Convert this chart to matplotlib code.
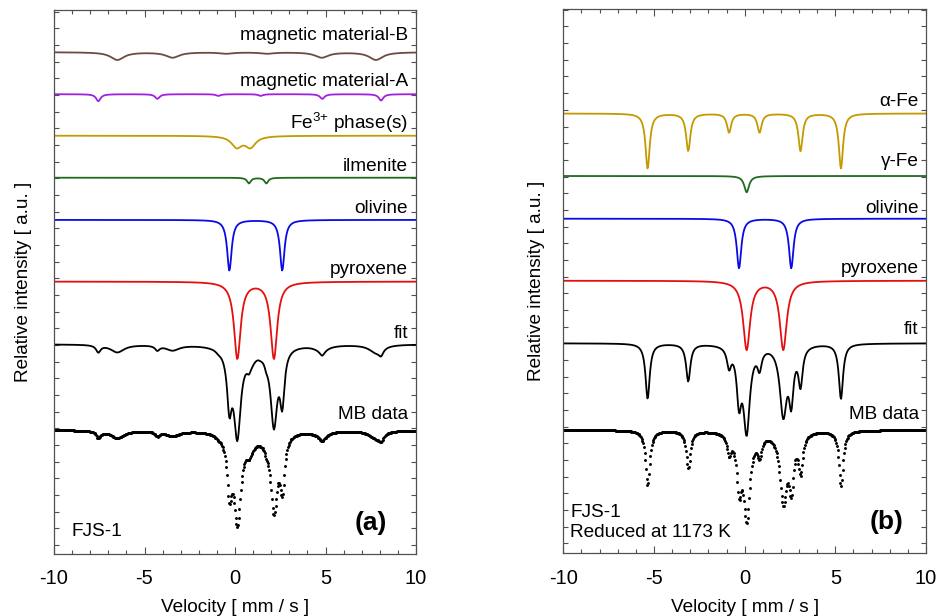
import numpy as np
import matplotlib
matplotlib.use("Agg")
import matplotlib.pyplot as plt
from matplotlib.ticker import MultipleLocator

plt.rcParams['font.family'] = ['Liberation Sans', 'DejaVu Sans']
plt.rcParams['mathtext.fontset'] = 'custom'
plt.rcParams['mathtext.rm'] = 'Liberation Sans'
plt.rcParams['mathtext.it'] = 'Liberation Sans:italic'
plt.rcParams['mathtext.bf'] = 'Liberation Sans:bold'
plt.rcParams['axes.unicode_minus'] = False

# ---------------- data ----------------
# velocity channels [mm/s]
velocity = np.linspace(-10, 10, 501)

# Panel (a): sub-spectra as Lorentzian lines: positions [mm/s], FWHM [mm/s], depths [a.u.]
a_names = ["magnetic material-B", "magnetic material-A", r"Fe$^{3{+}}$ phase(s)",
           "ilmenite", "olivine", "pyroxene"]
a_pos = [
    [-6.50, -3.45, -0.48, 1.78, 4.79, 7.79],
    [-7.55, -4.29, -0.92, 1.42, 4.82, 8.07],
    [0.09, 0.85],
    [0.77, 1.73],
    [-0.31, 2.61],
    [0.13, 2.15],
]
a_fwhm = [
    [0.9, 0.9, 0.9, 0.9, 0.9, 0.9],
    [0.30, 0.30, 0.30, 0.30, 0.30, 0.30],
    [0.70, 0.70],
    [0.25, 0.25],
    [0.30, 0.30],
    [0.44, 0.44],
]
a_depth = [
    [0.46, 0.32, 0.08, 0.08, 0.32, 0.46],
    [0.42, 0.28, 0.10, 0.10, 0.28, 0.38],
    [0.65, 0.65],
    [0.34, 0.34],
    [3.04, 3.04],
    [4.60, 4.60],
]

# Panel (b)
b_names = ["\u03b1-Fe", "\u03b3-Fe", "olivine", "pyroxene"]
b_pos = [
    [-5.35, -3.11, -0.86, 0.82, 3.08, 5.31],
    [0.11],
    [-0.31, 2.57],
    [0.11, 2.13],
]
b_fwhm = [
    [0.28, 0.28, 0.28, 0.28, 0.28, 0.28],
    [0.32],
    [0.30, 0.30],
    [0.46, 0.46],
]
b_depth = [
    [3.30, 2.24, 1.14, 1.14, 2.24, 3.30],
    [0.98],
    [2.98, 2.98],
    [4.12, 4.12],
]

# ---------------- styling / layout ----------------
a_colors = ["#6B4C42", "#A020E0", "#C49A00", "#1F6B1F", "#0A0AE6", "#E41010"]
b_colors = ["#C49A00", "#1F6B1F", "#0A0AE6", "#E41010"]
a_offsets = [29.56, 27.04, 24.55, 22.03, 19.50, 15.80]
a_fit_offset, a_data_offset = 12.04, 6.90
b_offsets = [25.78, 22.03, 19.47, 15.75]
b_fit_offset, b_data_offset = 12.00, 6.80

a_label_y = [30.29, 27.53, 24.94, 22.45, 19.90, 16.24]
b_label_y = [26.25, 22.63, 19.83, 16.20]


def lines(v, pos, fwhm, depth):
    out = np.zeros_like(v)
    for p, w, d in zip(pos, fwhm, depth):
        out += d / (1.0 + ((v - p) / (w / 2.0)) ** 2)
    return out


fig = plt.figure(figsize=(9.38, 6.16), dpi=100)
axA = fig.add_axes([54 / 938, 62 / 616, 362 / 938, 544 / 616])
axB = fig.add_axes([563.3 / 938, 62.7 / 616, 362.7 / 938, 544 / 616])

LABEL_FS = 13.7


def draw_panel(ax, names, pos, fwhm, depth, colors, offsets, label_y,
               fit_off, data_off, label_x, fit_label_y, data_label_y, ylim, ylab_x):
    total = np.zeros_like(velocity)
    for n, p, w, d, c, off, ly in zip(names, pos, fwhm, depth, colors, offsets, label_y):
        comp = lines(velocity, p, w, d)
        total += comp
        ax.plot(velocity, off - comp, color=c, lw=1.3)
        ax.text(label_x, ly, n, ha='right', va='baseline', fontsize=LABEL_FS)
    ax.plot(velocity, fit_off - total, color='black', lw=1.3)
    ax.text(label_x, fit_label_y, "fit", ha='right', va='baseline', fontsize=LABEL_FS)
    ax.plot(velocity, data_off - total, linestyle='none', marker='o',
            markersize=2.1, markeredgewidth=0, color='black')
    ax.text(label_x, data_label_y, "MB data", ha='right', va='baseline', fontsize=LABEL_FS)

    ax.set_xlim(-10, 10)
    ax.set_ylim(*ylim)
    ax.xaxis.set_major_locator(MultipleLocator(5))
    ax.xaxis.set_minor_locator(MultipleLocator(1))
    ax.yaxis.set_major_locator(MultipleLocator(1))
    ax.set_yticklabels([])
    ax.tick_params(axis='both', which='both', direction='in', top=True, right=True,
                   color='#505050')
    ax.tick_params(axis='x', which='major', length=4.8, width=0.8, labelsize=14.5, pad=11)
    ax.tick_params(axis='x', which='minor', length=2.9, width=0.8)
    ax.tick_params(axis='y', which='major', length=3.6, width=0.8, labelleft=False)
    for s in ax.spines.values():
        s.set_color('#505050')
        s.set_linewidth(0.9)
    ax.set_xlabel("Velocity [ mm / s ]", fontsize=LABEL_FS, labelpad=8)
    ax.set_ylabel("Relative intensity [ a.u. ]", fontsize=LABEL_FS)
    ax.yaxis.set_label_coords(ylab_x, 0.5)


draw_panel(axA, a_names, a_pos, a_fwhm, a_depth, a_colors, a_offsets, a_label_y,
           a_fit_offset, a_data_offset, 9.56, 12.44, 7.56, (-0.54, 32.09), -0.062)
draw_panel(axB, b_names, b_pos, b_fwhm, b_depth, b_colors, b_offsets, b_label_y,
           b_fit_offset, b_data_offset, 9.60, 12.54, 7.45, (-0.60, 32.03), -0.050)

axA.text(-9.02, 0.55, "FJS-1", ha='left', va='baseline', fontsize=LABEL_FS)
axA.text(8.38, 1.3, "(a)", ha='right', va='center', fontsize=19, fontweight='bold')
axB.text(-9.63, 1.6, "FJS-1", ha='left', va='baseline', fontsize=LABEL_FS)
axB.text(-9.63, 0.4, "Reduced at 1173 K", ha='left', va='baseline', fontsize=LABEL_FS)
axB.text(8.75, 1.3, "(b)", ha='right', va='center', fontsize=19, fontweight='bold')

fig.savefig("out.png", dpi=100)
